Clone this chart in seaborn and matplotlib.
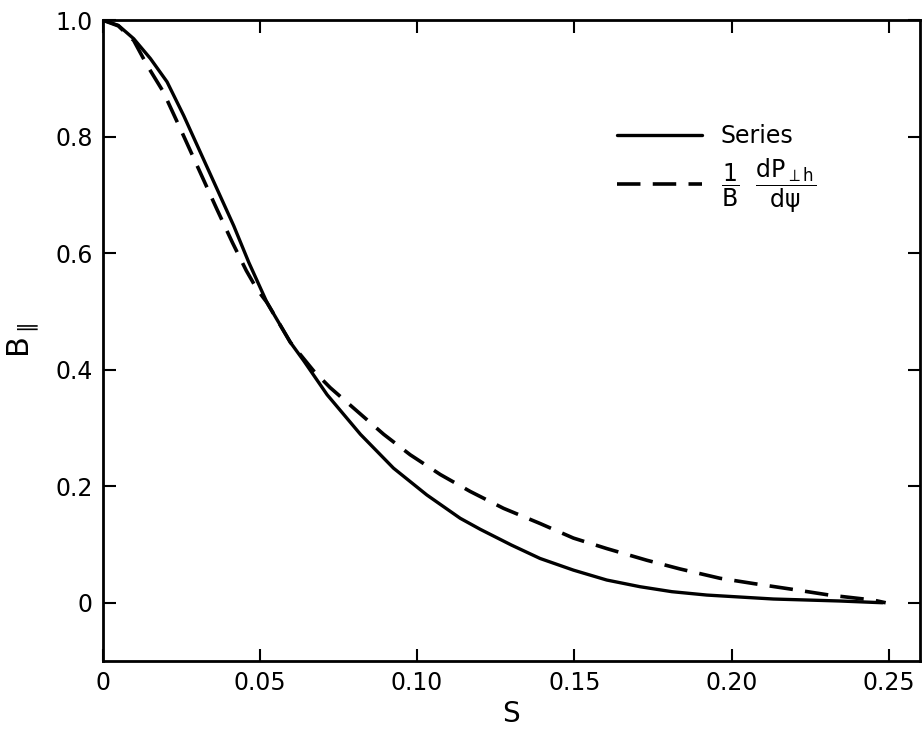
import matplotlib
matplotlib.use("Agg")
import matplotlib.pyplot as plt
import seaborn as sns
import pandas as pd

# ---- data ----
s_series = [0, 0.005, 0.0099, 0.0152, 0.0205, 0.0258, 0.0311, 0.0364, 0.0417, 0.0465,
            0.0523, 0.0597, 0.0640, 0.0714, 0.0820, 0.0925, 0.1031, 0.1137, 0.1201,
            0.1300, 0.1391, 0.1497, 0.1603, 0.1709, 0.1810, 0.1921, 0.2133, 0.2344, 0.248]
b_series = [1.0, 0.991, 0.968, 0.934, 0.894, 0.836, 0.773, 0.710, 0.647, 0.584,
            0.515, 0.447, 0.415, 0.357, 0.289, 0.231, 0.185, 0.145, 0.126,
            0.099, 0.076, 0.056, 0.039, 0.0275, 0.019, 0.0132, 0.0064, 0.003, 0.0]

s_grad = [0, 0.005, 0.0099, 0.0142, 0.0193, 0.0252, 0.0310, 0.0363, 0.0413, 0.0457,
          0.0491, 0.0523, 0.0597, 0.0671, 0.0724, 0.0809, 0.0894, 0.0978, 0.1074,
          0.1169, 0.1275, 0.1391, 0.1497, 0.1603, 0.1730, 0.1836, 0.1963, 0.2069,
          0.2186, 0.2313, 0.245, 0.249]
b_grad = [1.0, 0.99, 0.965, 0.922, 0.877, 0.808, 0.739, 0.676, 0.618, 0.570,
          0.538, 0.515, 0.447, 0.398, 0.369, 0.329, 0.289, 0.254, 0.220,
          0.191, 0.162, 0.136, 0.111, 0.093, 0.073, 0.058, 0.042, 0.033,
          0.0236, 0.013, 0.0046, 0.0]

x_ticks = [0, 0.05, 0.10, 0.15, 0.20, 0.25]
x_tick_labels = ["0", "0.05", "0.10", "0.15", "0.20", "0.25"]
y_ticks = [0, 0.2, 0.4, 0.6, 0.8, 1.0]
y_tick_labels = ["0", "0.2", "0.4", "0.6", "0.8", "1.0"]

label_series = "Series"
label_grad = r"$\dfrac{1}{B}\ \ \dfrac{dP_{\perp h}}{d\psi}$"

df_series = pd.DataFrame({"S": s_series, "B": b_series})
df_grad = pd.DataFrame({"S": s_grad, "B": b_grad})

sns.set_theme(style="ticks")
plt.rcParams["font.family"] = ["DejaVu Sans"]
plt.rcParams["mathtext.fontset"] = "dejavusans"
plt.rcParams["mathtext.default"] = "regular"
plt.rcParams["text.color"] = "black"
plt.rcParams["axes.labelcolor"] = "black"
plt.rcParams["xtick.color"] = "black"
plt.rcParams["ytick.color"] = "black"

fig = plt.figure(figsize=(9.24, 7.30), dpi=100)
ax = fig.add_axes([0.111, 0.0945, 0.885, 0.878])

sns.lineplot(data=df_series, x="S", y="B", ax=ax, color="black", lw=2.4,
             label=label_series, sort=False)
sns.lineplot(data=df_grad, x="S", y="B", ax=ax, color="black", lw=2.6,
             label=label_grad, sort=False)
ax.lines[1].set_dashes([6.5, 3.4])

ax.set_xlim(0, 0.26)
ax.set_ylim(-0.1, 1.0)
ax.set_xticks(x_ticks)
ax.set_xticklabels(x_tick_labels)
ax.set_yticks(y_ticks)
ax.set_yticklabels(y_tick_labels)
ax.tick_params(direction="in", length=9, width=1.5, top=True, right=True,
               labelsize=17, colors="black", pad=7)

for sp in ax.spines.values():
    sp.set_visible(True)
    sp.set_linewidth(2.0)
    sp.set_color("black")

ax.set_xlabel("S", fontsize=20, labelpad=4, color="black")
ax.set_ylabel(r"$\mathrm{B}_{\parallel}$", fontsize=22, labelpad=10, color="black")

leg = ax.legend(loc="upper left", bbox_to_anchor=(0.603, 0.871), frameon=False,
                handlelength=3.6, fontsize=17, labelspacing=0.35, handletextpad=0.8,
                labelcolor="black")

fig.savefig("out.png", dpi=100, facecolor="white")
